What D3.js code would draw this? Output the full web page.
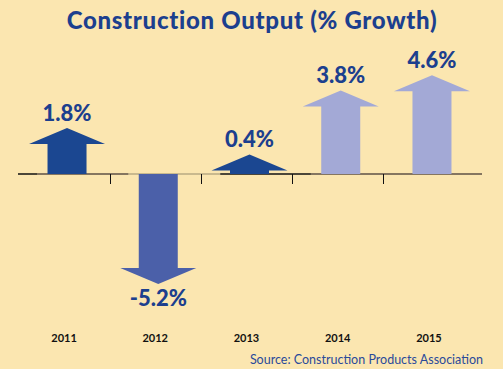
<!DOCTYPE html>
<html>
<head>
<meta charset="utf-8">
<script src="https://cdn.jsdelivr.net/npm/d3@7"></script>
<style>
  html, body { margin: 0; padding: 0; background: #fbe6b0; }
  svg { display: block; }
</style>
</head>
<body>
<div id="chart"></div>
<script>
// chart data
var years = ["2011", "2012", "2013", "2014", "2015"];
var growth = [1.8, -5.2, 0.4, 3.8, 4.6];
var forecast = [false, false, false, true, true];

var W = 503, H = 369;
var baseY = 174;

var svg = d3.select("#chart").append("svg")
	.attr("width", W).attr("height", H);

svg.append("rect").attr("width", W).attr("height", H).attr("fill", "#fbe6b0");

var x = d3.scaleBand().domain(years).range([21.4, 477.6]);
// arrow length from the axis, head included
var len = d3.scaleLinear().domain([0, 5.2]).range([12, 110]);

var headH = 16, headW = 76, shaftW = 39;

function arrowColor(v, i) {
	if (forecast[i]) return "#a3a9d6";
	if (v < 0) return "#4b60a9";
	return "#1b4791";
}

// title
svg.append("text")
	.attr("x", 252).attr("y", 29)
	.attr("text-anchor", "middle")
	.attr("font-family", "Lato, sans-serif")
	.attr("font-weight", "900")
	.attr("font-size", 24)
	.attr("letter-spacing", 0.7)
	.attr("fill", "#1c3f8e")
	.text("Construction Output (% Growth)");

// axis line
svg.append("line")
	.attr("x1", 18).attr("x2", 482)
	.attr("y1", baseY).attr("y2", baseY)
	.attr("stroke", "#111").attr("stroke-width", 1.5);

// shaded strips under the arrow pictures
growth.forEach(function(v, i) {
	if (v > 0 && v < 1) return;
	var cx = x(years[i]) + x.bandwidth() / 2;
	svg.append("line")
		.attr("x1", cx - 30).attr("x2", Math.min(cx + 62, 482))
		.attr("y1", baseY).attr("y2", baseY)
		.attr("stroke", v < 0 ? "#c9b98e" : "#857660")
		.attr("stroke-width", 2);
});

// ticks between categories
years.slice(1).forEach(function(y) {
	var tx = Math.round(x(y) - 3) + 0.5;
	svg.append("line")
		.attr("x1", tx).attr("x2", tx)
		.attr("y1", baseY).attr("y2", baseY + 10)
		.attr("stroke", "#111").attr("stroke-width", 1);
});

// arrows
growth.forEach(function(v, i) {
	var cx = x(years[i]) + x.bandwidth() / 2;
	var s = v < 0 ? 1 : -1;
	var L = len(Math.abs(v));
	var tip = baseY + s * L;
	var sh = tip - s * headH;
	var pts = [
		[cx - shaftW / 2, baseY],
		[cx - shaftW / 2, sh],
		[cx - headW / 2, sh],
		[cx, tip],
		[cx + headW / 2, sh],
		[cx + shaftW / 2, sh],
		[cx + shaftW / 2, baseY]
	];
	svg.append("polygon")
		.attr("points", pts.map(function(p) { return p.join(","); }).join(" "))
		.attr("fill", arrowColor(v, i));

	svg.append("text")
		.attr("x", cx)
		.attr("y", v < 0 ? tip + 22 : tip - 7)
		.attr("text-anchor", "middle")
		.attr("font-family", "Lato, sans-serif")
		.attr("font-weight", "900")
		.attr("font-size", 22)
		.attr("fill", "#1c3f8e")
		.text(v.toFixed(1) + "%");
});

// year labels
svg.selectAll(".yr").data(years).enter().append("text")
	.attr("class", "yr")
	.attr("x", function(d) { return x(d) + x.bandwidth() / 2 - 3; })
	.attr("y", 342)
	.attr("text-anchor", "middle")
	.attr("font-family", "Lato, sans-serif")
	.attr("font-weight", "bold")
	.attr("font-size", 11)
	.attr("fill", "#111")
	.text(function(d) { return d; });

// source
svg.append("text")
	.attr("x", 483).attr("y", 364)
	.attr("text-anchor", "end")
	.attr("font-family", "Lato, sans-serif")
	.attr("font-size", 12.5)
	.attr("fill", "#2a4a9a")
	.text("Source: Construction Products Association");
</script>
</body>
</html>
